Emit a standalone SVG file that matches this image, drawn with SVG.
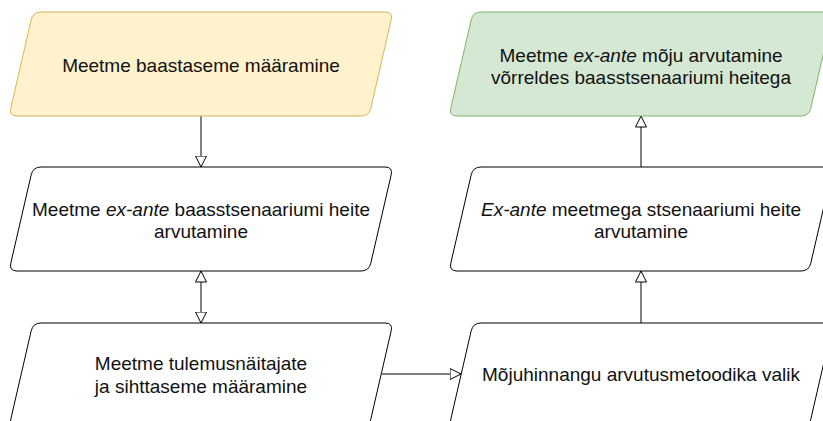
<svg xmlns="http://www.w3.org/2000/svg" width="823" height="421" viewBox="0 0 823 421">
  <style>
    .box { fill: #ffffff; stroke: #000000; stroke-width: 1; }
    .yellow { fill: #fff2cc; stroke: #d6b656; }
    .green { fill: #d5e8d4; stroke: #82b366; }
    .lbl { font-family: "Liberation Sans", Arial, Helvetica, sans-serif; font-size: 19px; fill: #111111; text-anchor: middle; }
    .it { font-style: italic; }
    .conn { fill: none; stroke: #000000; stroke-width: 1; marker-end: url(#open); }
  </style>
  <defs>
    <path id="para" d="M 41,12 L 385,12 Q 393,12 391.2,19.8 L 370.8,108.2 Q 369,116 361,116 L 17,116 Q 9,116 10.8,108.2 L 31.2,19.8 Q 33,12 41,12 Z"/>
    <marker id="open" viewBox="0 0 12 12" markerWidth="12" markerHeight="12" markerUnits="userSpaceOnUse" refX="11.5" refY="6" orient="auto-start-reverse">
      <path d="M 0.5,0.5 L 11.5,6 L 0.5,11.5 Z" fill="#ffffff" stroke="#000000" stroke-width="1"/>
    </marker>
  </defs>

  <g id="connectors">
    <path class="conn" d="M 201,116 L 201,167"/>
    <path class="conn" d="M 201,271 L 201,323" marker-start="url(#open)"/>
    <path class="conn" d="M 382,374 L 461,374"/>
    <path class="conn" d="M 641,323 L 641,271"/>
    <path class="conn" d="M 641,167 L 641,116"/>
  </g>

  <g id="node-baastase">
    <use href="#para" class="box yellow"/>
    <text class="lbl" x="201" y="71.5">Meetme baastaseme määramine</text>
  </g>

  <g id="node-baasstsenaarium">
    <use href="#para" class="box" transform="translate(0,155)"/>
    <text class="lbl" x="201" y="215.5">Meetme <tspan class="it">ex-ante</tspan> baasstsenaariumi heite</text>
    <text class="lbl" x="201" y="238">arvutamine</text>
  </g>

  <g id="node-tulemusnaitajad">
    <use href="#para" class="box" transform="translate(0,311)"/>
    <text class="lbl" x="201" y="370">Meetme tulemusnäitajate</text>
    <text class="lbl" x="201" y="392.5">ja sihttaseme määramine</text>
  </g>

  <g id="node-metoodika">
    <use href="#para" class="box" transform="translate(440,311)"/>
    <text class="lbl" x="641" y="381">Mõjuhinnangu arvutusmetoodika valik</text>
  </g>

  <g id="node-stsenaarium">
    <use href="#para" class="box" transform="translate(440,155)"/>
    <text class="lbl" x="641" y="215.5"><tspan class="it">Ex-ante</tspan> meetmega stsenaariumi heite</text>
    <text class="lbl" x="641" y="238">arvutamine</text>
  </g>

  <g id="node-moju">
    <use href="#para" class="box green" transform="translate(440,0)"/>
    <text class="lbl" x="641" y="61.5">Meetme <tspan class="it">ex-ante</tspan> mõju arvutamine</text>
    <text class="lbl" x="641" y="83.5">võrreldes baasstsenaariumi heitega</text>
  </g>
</svg>
